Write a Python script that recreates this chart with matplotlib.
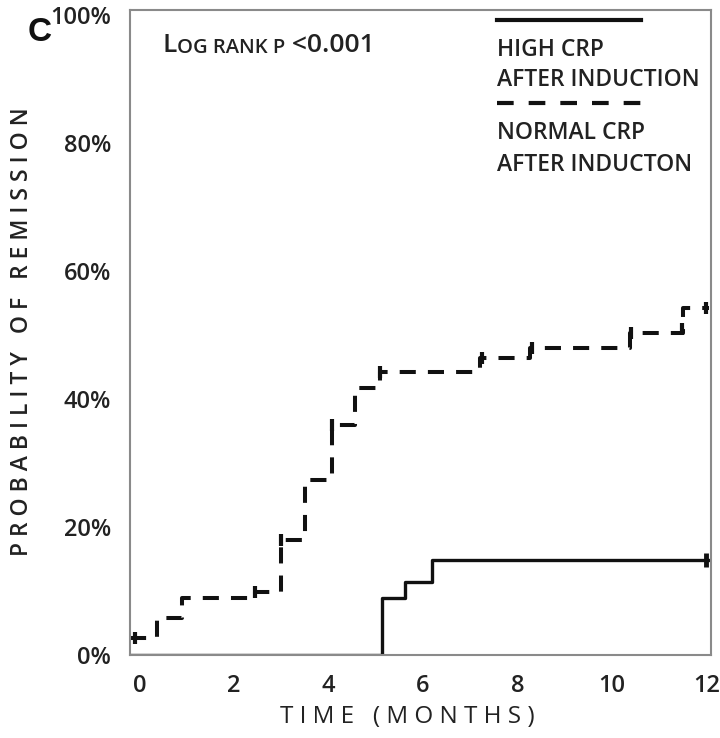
import matplotlib
matplotlib.use("Agg")
from matplotlib import pyplot as plt
from matplotlib.lines import Line2D

plt.rcParams["font.family"] = ["Open Sans", "DejaVu Sans"]
plt.rcParams["font.weight"] = "semibold"

# Kaplan-Meier curves (time in months, probability in %)
normal_t = [0.0, 0.36, 0.89, 2.44, 2.99, 3.50, 4.07, 4.56, 5.08, 7.20, 8.26, 10.38, 11.50, 12.05]
normal_p = [2.7, 5.8, 8.9, 9.8, 18.0, 27.3, 35.9, 41.7, 44.2, 46.4, 48.0, 50.3, 54.2, 54.2]
normal_cens_t = [-0.1, 2.44, 2.99, 4.07, 5.08, 7.25, 8.30, 10.40, 11.48, 12.0]
normal_cens_p = [2.7, 9.8, 18.0, 35.9, 44.2, 46.4, 48.0, 50.3, 50.9, 54.2]

high_t = [0.0, 5.13, 5.61, 6.19, 12.05]
high_p = [0.0, 8.9, 11.4, 14.8, 14.8]
high_cens_t = [12.0]
high_cens_p = [14.8]

xticks = [0, 2, 4, 6, 8, 10, 12]
yticks = [0, 20, 40, 60, 80, 100]
ytick_labels = ["0%", "20%", "40%", "60%", "80%", "100%"]

ink = "#111111"
txt = "#222222"

fig = plt.figure(figsize=(7.2, 7.38), dpi=100)
ax = fig.add_axes([0.181, 0.1125, 0.8065, 0.874])
xmin, xmax = -0.2, 12.1

# extend first point to the left spine
nt = [xmin] + normal_t[1:]
ht = [xmin] + high_t[1:]
ax.step(nt, normal_p, where="post", color=ink, lw=2.9, dashes=(4, 3))
ax.step(ht, high_p, where="post", color=ink, lw=2.4)
ax.plot(normal_cens_t, normal_cens_p, ls="none", marker="|", ms=9, mew=3, color=ink)
ax.plot(high_cens_t, high_cens_p, ls="none", marker="|", ms=10, mew=3.5, color=ink)

ax.set_xlim(xmin, xmax)
ax.set_ylim(0, 100.8)
ax.set_xticks(xticks)
ax.set_xticklabels([str(v) for v in xticks])
ax.set_yticks(yticks)
ax.set_yticklabels(ytick_labels)
ax.tick_params(length=0, labelsize=17, labelcolor=txt, pad=14)
for s in ax.spines.values():
    s.set_color("#8a8a8a")
    s.set_linewidth(1.5)

ax.set_xlabel("T I M E   ( M O N T H S )", fontsize=17.5, color=txt)
ax.xaxis.set_label_coords((407 - 130) / 581, -(716 - 654) / 645, transform=ax.transAxes)
ax.xaxis.label.set_va("center")
fig.text(0.031, 1 - 332 / 738, "P R O B A B I L I T Y   O F   R E M I S S I O N",
         rotation=90, fontsize=16.5, color=txt, ha="center", va="center")

fig.text(0.038, 0.977, "C", fontsize=24, fontweight="bold", family="Liberation Sans",
         ha="left", va="top", color="#111111")

# log rank annotation in small caps
t1 = ax.text(0.056, 0.925, "L", transform=ax.transAxes, fontsize=19, color=txt, va="bottom")
t2 = ax.annotate("OG RANK P", xy=(1, 0), xycoords=t1, fontsize=14.5, color=txt, va="bottom")
ax.annotate(" <0.001", xy=(1, 0), xycoords=t2, fontsize=19, color=txt, va="bottom")

# legend drawn by hand
lx0, lx1 = 0.69, 0.89
fig.add_artist(Line2D([lx0, lx1], [1 - 20 / 738] * 2, color=ink, lw=3))
fig.add_artist(Line2D([lx0, lx1], [1 - 103 / 738] * 2, color=ink, lw=3, dashes=(4, 3.6)))
for label, ypx in [("HIGH CRP", 50), ("AFTER INDUCTION", 80),
                   ("NORMAL CRP", 133), ("AFTER INDUCTON", 165)]:
    fig.text(lx0, 1 - ypx / 738, label, fontsize=16.5, color=txt, ha="left", va="center")

plt.savefig("out.png", dpi=100)
